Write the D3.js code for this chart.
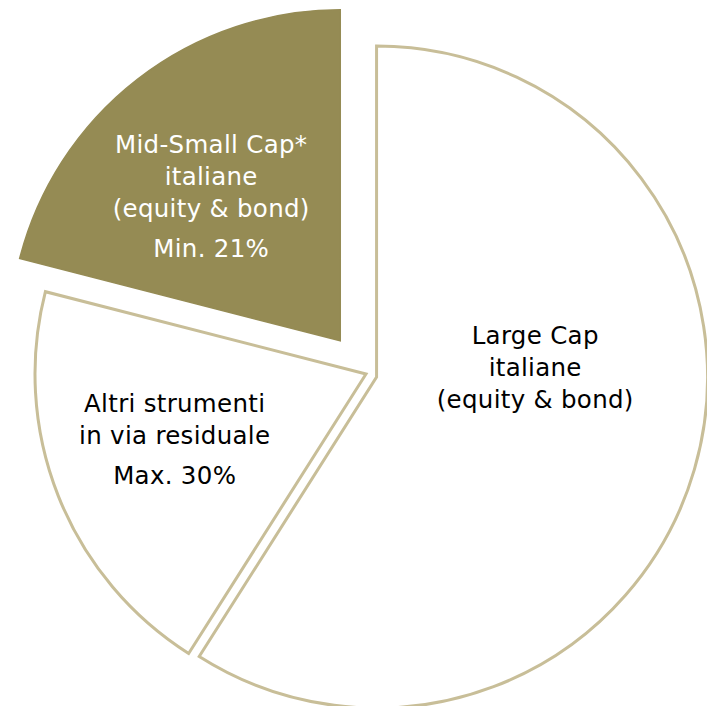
<!DOCTYPE html>
<html>
<head>
    <title>Allocazione</title>
    <style>
        html, body {
            margin: 0;
            padding: 0;
            background: #ffffff;
        }
        .slice-label {
            font-family: "DejaVu Sans", Verdana, sans-serif;
            font-size: 24.5px;
            letter-spacing: 0.3px;
            text-anchor: middle;
        }
    </style>
    <script src="https://d3js.org/d3.v7.min.js"></script>
</head>
<body>
    <svg id="chart"></svg>
</body>
<script>
    // dati del grafico
    const categories = ["Large Cap", "Altri strumenti", "Mid-Small Cap*"];
    const values = [59, 20, 21];
    const nameLines = [
        ["Large Cap", "italiane", "(equity & bond)"],
        ["Altri strumenti", "in via residuale"],
        ["Mid-Small Cap*", "italiane", "(equity & bond)"]
    ];
    const limitLabels = ["", "Max. 30%", "Min. 21%"];

    const width = 707;
    const height = 706;
    const radius = 331;
    const cx = 366, cy = 374;

    // stile per fetta
    const fills = ["#ffffff", "#ffffff", "#958b54"];
    const strokes = ["#c8be98", "#c8be98", "#958b54"];
    const textColors = ["#000000", "#000000", "#ffffff"];
    const explode = [11, 0, 42];
    const labelPos = [
        { r: 159, dA: -20 },
        { r: 202, dA: 2.9 },
        { r: 194, dA: -3.9 }
    ];

    const svg = d3.select("#chart")
        .attr("width", width)
        .attr("height", height);

    const g = svg.append("g")
        .attr("transform", "translate(" + cx + "," + cy + ")");

    const pie = d3.pie().sort(null).value(d => d)(values);

    const arc = d3.arc().innerRadius(0).outerRadius(radius);

    const slices = g.selectAll(".slice")
        .data(pie)
        .enter().append("g")
        .attr("class", "slice")
        .attr("transform", (d, i) => {
            const a = (d.startAngle + d.endAngle) / 2;
            return "translate(" + (Math.sin(a) * explode[i]) + "," + (-Math.cos(a) * explode[i]) + ")";
        });

    slices.append("path")
        .attr("d", arc)
        .attr("fill", (d, i) => fills[i])
        .attr("stroke", (d, i) => strokes[i])
        .attr("stroke-width", (d, i) => i === 2 ? 1.5 : 3)
        .attr("stroke-linejoin", "miter");

    const lineH = 32, valueGap = 40, capH = 18;

    slices.each(function(d, i) {
        const a = (d.startAngle + d.endAngle) / 2 + labelPos[i].dA * Math.PI / 180;
        const x = Math.sin(a) * labelPos[i].r;
        const y = -Math.cos(a) * labelPos[i].r;
        const lines = nameLines[i];
        const hasVal = limitLabels[i] !== "";
        const span = (lines.length - 1) * lineH + (hasVal ? valueGap : 0);
        const first = y - (span - capH) / 2;

        const t = d3.select(this).append("text")
            .attr("class", "slice-label")
            .attr("fill", textColors[i]);
        lines.forEach((l, k) => {
            t.append("tspan")
                .attr("x", x)
                .attr("y", first + k * lineH)
                .text(l);
        });
        if (hasVal) {
            t.append("tspan")
                .attr("x", x)
                .attr("y", first + (lines.length - 1) * lineH + valueGap)
                .text(limitLabels[i]);
        }
    });
</script>
</html>
